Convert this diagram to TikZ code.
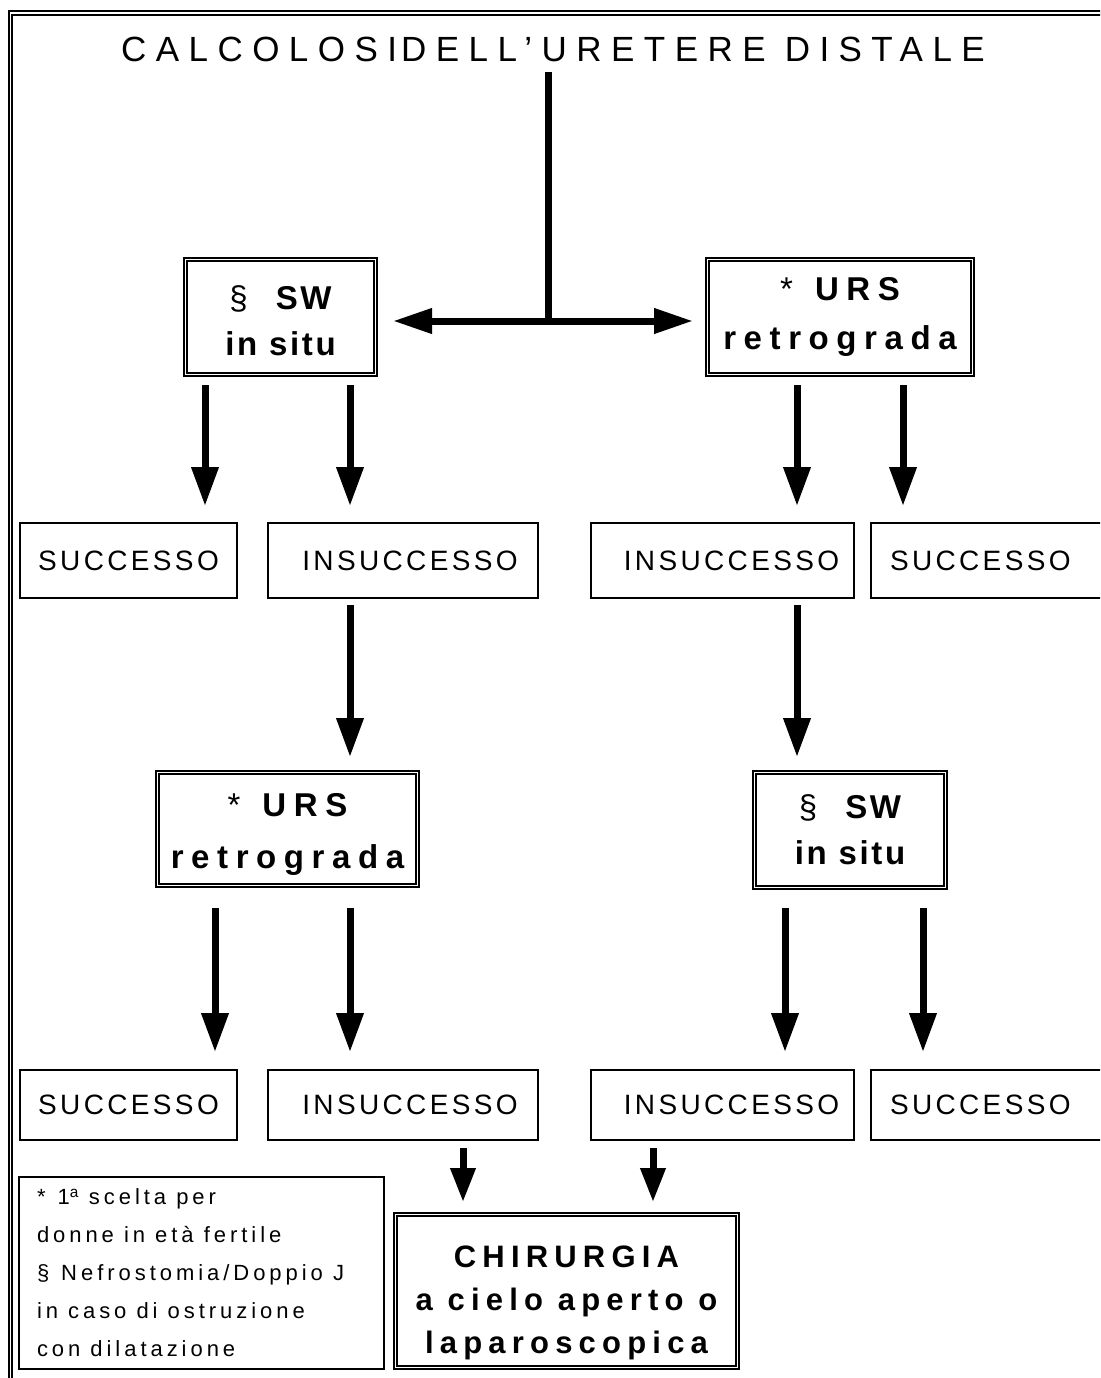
\documentclass[tikz,border=0pt]{standalone}
\usepackage{fontspec}
\setmainfont{Liberation Sans}
\newfontfamily\titlefam[LetterSpace=27]{Liberation Sans}
\newfontfamily\plainfam[LetterSpace=12]{Liberation Sans}
\newfontfamily\urswide[LetterSpace=23]{Liberation Sans}
\newfontfamily\swwide[LetterSpace=8]{Liberation Sans}
\newfontfamily\chirwide[LetterSpace=20]{Liberation Sans}
\newfontfamily\notefam[LetterSpace=18]{Liberation Sans}
\usetikzlibrary{arrows.meta}
\begin{document}
\begin{tikzpicture}[x=1pt,y=-1pt,
  every node/.style={outer sep=0pt, inner sep=0pt},
  plainbox/.style={draw, line width=1.5pt, font=\plainfam\fontsize{28}{32}\selectfont},
  twinbox/.style={draw, double, line width=1.6pt, double distance=1.8pt, align=center},
  flow/.style={line width=7pt, -{Triangle[length=39pt,width=26pt]}},
  shortflow/.style={line width=7pt, -{Triangle[length=34pt,width=24pt]}},
]
\useasboundingbox (0,0) rectangle (1100,1378);
\clip (0,0) rectangle (1100,1378);
\fill[white] (0,0) rectangle (1100,1378);

% page frame (runs off the right and bottom edges)
\draw[double, line width=2pt, double distance=1.8pt] (10.5,13) rectangle (1200,1500);

% title
\node[font=\titlefam\fontsize{35}{40}\selectfont, anchor=base] (title) at (553,62)
  {{\spaceskip=4pt\relax CALCOLOSI DELL’URETERE} DISTALE};

% first choice boxes
\node[twinbox, minimum width=190pt, minimum height=115pt,
      font=\swwide\bfseries\fontsize{33}{46}\selectfont] (sw1) at (280.5,317)
      {\rule{0pt}{32pt}{\mdseries §}\hspace{28pt}SW\\in situ};
\node[twinbox, minimum width=265pt, minimum height=115pt,
      font=\urswide\bfseries\fontsize{33}{49}\selectfont] (urs1) at (840,317)
      {{\mdseries *}\hspace{22pt}URS\\retrograda};

% first outcomes
\node[plainbox, minimum width=217pt, minimum height=75pt] (s1) at (128.5,560.5) {SUCCESSO};
\node[plainbox, minimum width=270pt, minimum height=75pt] (i1) at (403,560.5) {\hspace{14pt}INSUCCESSO};
\node[plainbox, minimum width=263pt, minimum height=75pt] (i2) at (722.5,560.5) {\hspace{18pt}INSUCCESSO};
\node[plainbox, minimum height=75pt, anchor=west, text width=220pt, align=left, inner xsep=19pt] (s2) at (871,560.5) {SUCCESSO};

% second choice boxes
\node[twinbox, minimum width=260pt, minimum height=113pt,
      font=\urswide\bfseries\fontsize{33}{52}\selectfont] (urs2) at (287.5,829)
      {\rule{0pt}{34pt}{\mdseries *}\hspace{22pt}URS\\retrograda};
\node[twinbox, minimum width=191pt, minimum height=115pt,
      font=\swwide\bfseries\fontsize{33}{46}\selectfont] (sw2) at (850,830)
      {{\mdseries §}\hspace{28pt}SW\\in situ};

% second outcomes
\node[plainbox, minimum width=217pt, minimum height=70pt] (s3) at (128.5,1105) {SUCCESSO};
\node[plainbox, minimum width=270pt, minimum height=70pt] (i3) at (403,1105) {\hspace{14pt}INSUCCESSO};
\node[plainbox, minimum width=263pt, minimum height=70pt] (i4) at (722.5,1105) {\hspace{18pt}INSUCCESSO};
\node[plainbox, minimum height=70pt, anchor=west, text width=220pt, align=left, inner xsep=19pt] (s4) at (871,1105) {SUCCESSO};

% surgery
\node[twinbox, minimum width=342pt, minimum height=153pt,
      font=\chirwide\bfseries\fontsize{31}{43}\selectfont] (chir) at (566.5,1291)
      {\spaceskip=3pt\relax\rule{0pt}{46pt}CHIRURGIA\\a cielo aperto o\\laparoscopica};

% notes
\node[draw, line width=1.5pt, anchor=north west, minimum width=365pt, minimum height=192pt,
      text width=329pt, inner xsep=18pt, align=left,
      font=\notefam\fontsize{22}{38}\selectfont] (note) at (19,1177)
      {\spaceskip=0pt\relax
       \mbox{*\hspace{12pt}1\textsuperscript{a} scelta per}\\
       \mbox{donne in età fertile}\\
       \mbox{§\hspace{12pt}Nefrostomia/Doppio J}\\
       \mbox{in caso di ostruzione}\\
       \mbox{con dilatazione}};

% connector columns
\coordinate (j) at (548.5,321);
\coordinate (c1) at (205,0);
\coordinate (c2) at (350,0);
\coordinate (c3) at (797,0);
\coordinate (c4) at (903,0);
\coordinate (c5) at (215,0);
\coordinate (c6) at (785,0);
\coordinate (c7) at (923,0);
\coordinate (c8) at (463,0);
\coordinate (c9) at (653,0);

% title split
\draw[line width=7pt, shorten <=10pt] (title.south -| j) -- (j);
\draw[line width=7pt, {Triangle[length=39pt,width=24pt]}-{Triangle[length=39pt,width=24pt]},
      shorten <=17.5pt, shorten >=14.5pt] (sw1.east |- j) -- (urs1.west |- j);

% first outcomes
\draw[flow, shorten <=10.5pt, shorten >=17pt] (sw1.south -| c1) -- (s1.north -| c1);
\draw[flow, shorten <=10.5pt, shorten >=17pt] (sw1.south -| c2) -- (i1.north -| c2);
\draw[flow, shorten <=10.5pt, shorten >=17pt] (urs1.south -| c3) -- (i2.north -| c3);
\draw[flow, shorten <=10.5pt, shorten >=17pt] (urs1.south -| c4) -- (s2.north -| c4);

% after failure
\draw[flow, shorten <=7pt, shorten >=15.5pt] (i1.south -| c2) -- (urs2.north -| c2);
\draw[flow, shorten <=7pt, shorten >=15.5pt] (i2.south -| c3) -- (sw2.north -| c3);

% second outcomes
\draw[flow, shorten <=22.5pt, shorten >=18pt] (urs2.south -| c5) -- (s3.north -| c5);
\draw[flow, shorten <=22.5pt, shorten >=18pt] (urs2.south -| c2) -- (i3.north -| c2);
\draw[flow, shorten <=20.5pt, shorten >=18pt] (sw2.south -| c6) -- (i4.north -| c6);
\draw[flow, shorten <=20.5pt, shorten >=18pt] (sw2.south -| c7) -- (s4.north -| c7);

% to surgery
\draw[shortflow, shorten <=8pt, shorten >=12.5pt] (i3.south -| c8) -- (chir.north -| c8);
\draw[shortflow, shorten <=8pt, shorten >=12.5pt] (i4.south -| c9) -- (chir.north -| c9);
\end{tikzpicture}
\end{document}
